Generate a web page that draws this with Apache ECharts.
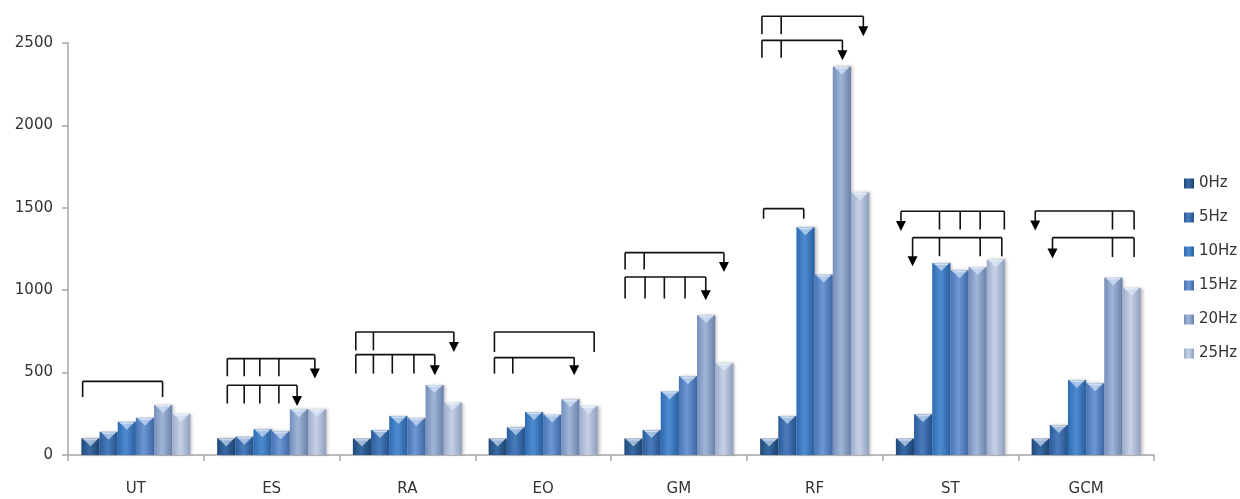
<!DOCTYPE html>
<html>
<head>
<meta charset="utf-8">
<script src="https://cdn.jsdelivr.net/npm/echarts@6/dist/echarts.min.js"></script>
<style>html,body{margin:0;padding:0;background:#fff;}#c{width:1240px;height:499px;}</style>
</head>
<body>
<div id="c"></div>
<script>
const categories = ['UT', 'ES', 'RA', 'EO', 'GM', 'RF', 'ST', 'GCM'];
const freqs = ['0Hz', '5Hz', '10Hz', '15Hz', '20Hz', '25Hz'];
const v0Hz  = [101, 101, 100, 100, 100, 100, 100, 100];
const v5Hz  = [141, 111, 152, 168, 152, 237, 247, 182];
const v10Hz = [202, 156, 237, 261, 385, 1382, 1165, 455];
const v15Hz = [226, 144, 225, 245, 478, 1095, 1121, 435];
const v20Hz = [303, 277, 425, 338, 848, 2358, 1141, 1077];
const v25Hz = [249, 277, 318, 298, 557, 1593, 1187, 1015];
const yTicks = [0, 500, 1000, 1500, 2000, 2500];

// significance brackets: [category, line value, tick-end value, tick positions (bar units), arrow position (bar units or null), arrow tip value]
const brackets = [
  [0, 447, 352, [0.07, 4.47], null, null],
  [1, 585, 478, [0.56, 1.49, 2.35, 3.4], 5.38, 464],
  [1, 423, 312, [0.56, 1.49, 2.35, 3.4], 4.4, 297],
  [2, 746, 635, [0.16, 1.13], 5.56, 625],
  [2, 609, 494, [0.16, 1.13, 2.17, 3.36], 4.51, 484],
  [3, 746, 625, [0.32, 5.81], null, null],
  [3, 591, 494, [0.32, 1.33], 4.71, 484],
  [4, 1228, 1125, [0.04, 1.09], 5.48, 1110],
  [4, 1080, 949, [0.04, 1.14, 2.2, 3.34], 4.48, 939],
  [5, 2662, 2553, [0.1, 1.16], 5.68, 2541],
  [5, 2516, 2411, [0.1, 1.16], 4.53, 2395],
  [5, 1495, 1434, [0.19, 2.4], null, null],
  [6, 1479, 1368, [2.4, 3.54, 4.64, 5.97], 0.28, 1359],
  [6, 1319, 1206, [2.4, 4.64, 5.83], 0.92, 1145],
  [7, 1481, 1368, [4.45, 5.64], 0.2, 1363],
  [7, 1319, 1201, [4.45, 5.64], 1.15, 1192]
];

const values = [v0Hz, v5Hz, v10Hz, v15Hz, v20Hz, v25Hz];
const baseColors = [
  ['#224a7a', '#386aa3', '#1c4270'],
  ['#2b5d9d', '#4a7cbc', '#24518a'],
  ['#2d6cb3', '#508bd0', '#275f9f'],
  ['#4875b8', '#6e98d3', '#3d66a2'],
  ['#768fba', '#a0b5d8', '#6980aa'],
  ['#9cadca', '#c6d1e5', '#8e9fbd']
];
const GAP = 0.197;

function grad(c) {
  return new echarts.graphic.LinearGradient(0, 0, 1, 0, [
    { offset: 0, color: c[0] },
    { offset: 0.45, color: c[1] },
    { offset: 1, color: c[2] }
  ]);
}

const chart = echarts.init(document.getElementById('c'), null, { renderer: 'canvas' });

const series = freqs.map((f, i) => ({
  name: f,
  type: 'bar',
  data: values[i],
  barGap: '0%',
  barCategoryGap: (GAP * 100) + '%',
  itemStyle: {
    color: grad(baseColors[i]),
    shadowColor: 'rgba(0,0,0,0.25)',
    shadowBlur: 3,
    shadowOffsetX: 2,
    shadowOffsetY: 0
  },
  emphasis: { disabled: true },
  z: 2
}));

// bevel highlights on bar tops
const bevelData = [];
values.forEach((arr, i) => arr.forEach((v, c) => bevelData.push([c, v, i])));
series.push({
  type: 'custom',
  name: 'bevel',
  silent: true,
  z: 3,
  data: bevelData,
  encode: { x: 0, y: 1 },
  renderItem: function (params, api) {
    const c = api.value(0), v = api.value(1), k = api.value(2);
    const band = api.size([1, 0])[0];
    const gw = band * (1 - GAP);
    const bw = gw / 6;
    const cx = api.coord([c, v]);
    const x0 = cx[0] - gw / 2 + k * bw;
    const x1 = x0 + bw;
    const top = cx[1];
    const h = 8;
    return {
      type: 'group',
      children: [
        { type: 'polygon', shape: { points: [[x0 + 1, top], [x1 - 1, top], [x1 - 3, top + 2], [x0 + 3, top + 2]] },
          style: { fill: 'rgba(255,255,255,0.6)' } },
        { type: 'polygon', shape: { points: [[x0 + 2, top + 1], [x1 - 2, top + 1], [(x0 + x1) / 2, top + h]] },
          style: { fill: 'rgba(225,238,255,0.6)' } }
      ]
    };
  }
});

series.push({
  type: 'custom',
  name: 'brackets',
  silent: true,
  clip: false,
  z: 5,
  data: brackets.map(b => [b[0], b[1]]),
  encode: { x: 0, y: 1 },
  renderItem: function (params, api) {
    const b = brackets[params.dataIndex];
    const c = b[0];
    const band = api.size([1, 0])[0];
    const gw = band * (1 - GAP);
    const bw = gw / 6;
    const center = api.coord([c, 0])[0];
    const start = center - gw / 2;
    const X = u => start + u * bw;
    const Y = v => api.coord([c, v])[1];
    const yl = Y(b[1]), yt = Y(b[2]);
    const xs = b[3].map(X);
    let allX = xs.slice();
    const children = [];
    const st = { stroke: '#111', lineWidth: 1.6 };
    xs.forEach(x => children.push({ type: 'line', shape: { x1: x, y1: yl, x2: x, y2: yt }, style: st }));
    if (b[4] !== null) {
      const xa = X(b[4]);
      allX.push(xa);
      const tip = Y(b[5]);
      const hh = 10, hw = 5;
      children.push({ type: 'line', shape: { x1: xa, y1: yl, x2: xa, y2: tip - hh + 1 }, style: st });
      children.push({ type: 'polygon', shape: { points: [[xa - hw, tip - hh], [xa + hw, tip - hh], [xa, tip]] }, style: { fill: '#000' } });
    }
    const xmin = Math.min.apply(null, allX), xmax = Math.max.apply(null, allX);
    children.push({ type: 'line', shape: { x1: xmin, y1: yl, x2: xmax, y2: yl }, style: st });
    return { type: 'group', children: children };
  }
});

chart.setOption({
  animation: false,
  backgroundColor: '#ffffff',
  grid: { left: 68, right: 86, top: 43, bottom: 44, containLabel: false },
  legend: {
    data: freqs,
    orient: 'vertical',
    left: 1179,
    top: 171,
    itemWidth: 10,
    itemHeight: 10,
    itemGap: 19,
    icon: 'rect',
    textStyle: { fontFamily: 'DejaVu Sans', fontSize: 15, color: '#333' }
  },
  xAxis: {
    type: 'category',
    data: categories,
    axisLine: { lineStyle: { color: '#a6a6a6', width: 1.5 } },
    axisTick: { show: true, length: 6, lineStyle: { color: '#a6a6a6', width: 1.5 } },
    axisLabel: { margin: 27, fontFamily: 'DejaVu Sans', fontSize: 15, color: '#333' }
  },
  yAxis: {
    type: 'value',
    min: 0,
    max: 2500,
    interval: 500,
    axisLine: { show: true, lineStyle: { color: '#a6a6a6', width: 1.5 } },
    axisTick: { show: true, length: 6, lineStyle: { color: '#a6a6a6', width: 1.5 } },
    splitLine: { show: false },
    axisLabel: { margin: 15, fontFamily: 'DejaVu Sans', fontSize: 15, color: '#333',
      formatter: v => (yTicks.indexOf(v) >= 0 ? String(v) : '') }
  },
  series: series
});
</script>
</body>
</html>
